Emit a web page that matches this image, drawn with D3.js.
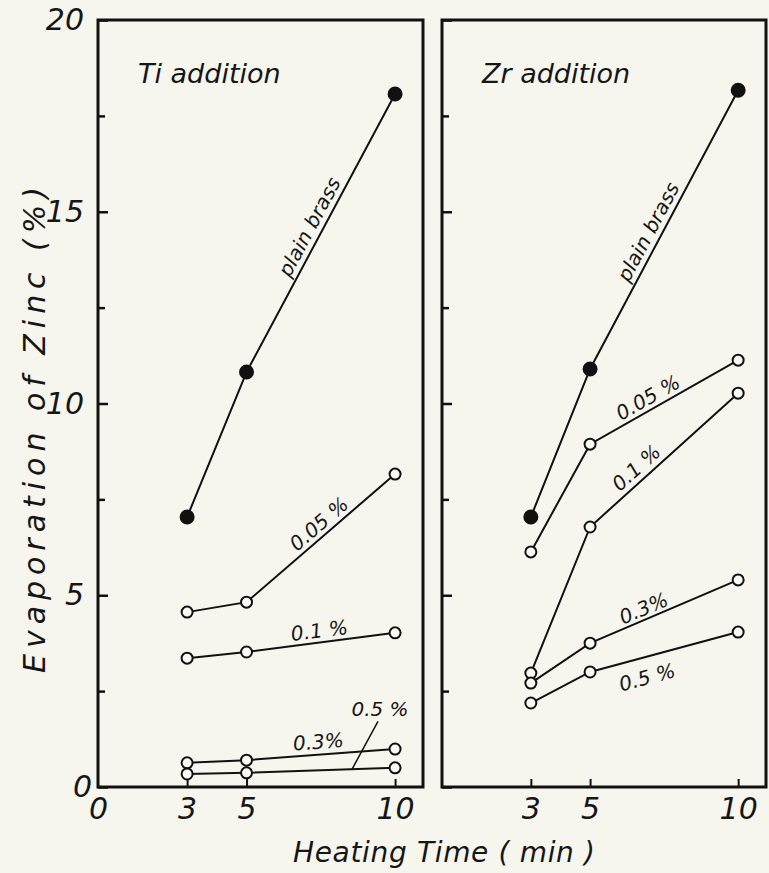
<!DOCTYPE html>
<html>
<head>
<meta charset="utf-8">
<script src="https://cdn.jsdelivr.net/npm/d3@7"></script>
<style>
  body { margin: 0; background: #f6f6ef; }
  text { font-family: "DejaVu Sans", sans-serif; font-style: italic; fill: #161616; }
</style>
</head>
<body>
<script>
// heating times (min) shared by every series
const times = [3, 5, 10];

// Ti addition, evaporation of zinc (%)
const tiPlain = [7.04, 10.82, 18.07];
const ti005 = [4.56, 4.82, 8.16];
const ti01 = [3.36, 3.52, 4.02];
const ti03 = [0.63, 0.70, 0.99];
const ti05 = [0.34, 0.37, 0.50];

// Zr addition
const zrPlain = [7.04, 10.90, 18.17];
const zr005 = [6.13, 8.94, 11.13];
const zr01 = [2.97, 6.78, 10.27];
const zr03 = [2.71, 3.75, 5.40];
const zr05 = [2.19, 3.00, 4.04];

const yMajor = [0, 5, 10, 15, 20];
const yMinor = [2.5, 7.5, 12.5, 17.5];

let width = 769, height = 873;

let svg = d3.select("body").append("svg")
  .attr("width", width)
  .attr("height", height);

svg.append("rect").attr("width", width).attr("height", height).attr("fill", "#f6f6ef");

let y = d3.scaleLinear().domain([0, 20]).range([787, 20]);
let xLeft = d3.scaleLinear().domain([0, 10.94]).range([98, 423]);
let xRight = d3.scaleLinear().domain([0, 10.94]).range([442, 766]);

// label specs: seg = which segment, frac = position along it, off = distance from line
let tiPanel = {
  title: "Ti addition",
  x: xLeft,
  yLabels: true,
  xTicks: [0, 3, 5, 10],
  series: [
    { values: tiPlain, filled: true, label: "plain brass", seg: 1, frac: 0.5, off: 6 },
    { values: ti005, label: "0.05 %", seg: 1, frac: 0.54, off: 5 },
    { values: ti01, label: "0.1 %", seg: 1, frac: 0.5, off: 5 },
    { values: ti03, label: "0.3%", seg: 1, frac: 0.49, off: 6 },
    { values: ti05, label: "0.5 %", seg: 1, frac: 0.71, leader: { dx: 28, dy: -53, lx: 26, ly: -48 } }
  ]
};

let zrPanel = {
  title: "Zr addition",
  x: xRight,
  yLabels: false,
  xTicks: [3, 5, 10],
  series: [
    { values: zrPlain, filled: true, label: "plain brass", seg: 1, frac: 0.47, off: 6 },
    { values: zr005, label: "0.05 %", seg: 1, frac: 0.43, off: 5 },
    { values: zr01, label: "0.1 %", seg: 1, frac: 0.37, off: 6 },
    { values: zr03, label: "0.3%", seg: 1, frac: 0.39, off: 4 },
    { values: zr05, label: "0.5 %", seg: 1, frac: 0.35, off: -27 }
  ]
};

function drawPanel(p) {
  let x = p.x;
  let g = svg.append("g");

  // frame
  g.append("rect")
    .attr("x", x(0))
    .attr("y", y(20))
    .attr("width", x.range()[1] - x(0))
    .attr("height", y(0) - y(20))
    .attr("fill", "none")
    .attr("stroke", "#111")
    .attr("stroke-width", 3);

  // y ticks (inside)
  let ya = g.append("g")
    .attr("transform", "translate(" + x(0) + ",0)")
    .call(d3.axisLeft(y).tickValues(yMajor).tickSize(-10).tickPadding(14)
      .tickFormat(p.yLabels ? d3.format("d") : ""));
  ya.append("g").call(d3.axisLeft(y).tickValues(yMinor).tickSize(-7).tickFormat(""));
  ya.selectAll(".domain").remove();
  ya.selectAll("line").attr("stroke", "#111").attr("stroke-width", 2.5);
  ya.selectAll("text").style("font-size", "30px").style("font-family", "DejaVu Sans").attr("fill", "#161616");
  ya.selectAll(".tick").filter(function(d) { return d === 0; }).select("text").attr("dx", 8);

  // x ticks
  let xa = g.append("g")
    .attr("transform", "translate(0," + y(0) + ")")
    .call(d3.axisBottom(x).tickValues(p.xTicks).tickSize(-8).tickPadding(11).tickFormat(d3.format("d")));
  xa.selectAll(".domain").remove();
  xa.selectAll("line").attr("stroke", "#111").attr("stroke-width", 2)
    .filter(function(d) { return d === 0; }).remove();
  xa.selectAll("text").style("font-size", "30px").style("font-family", "DejaVu Sans").attr("fill", "#161616");

  // panel title
  g.append("text")
    .attr("x", x(0) + 40)
    .attr("y", y(20) + 63)
    .style("font-size", "27px")
    .text(p.title);

  let line = d3.line()
    .x(function(d, i) { return x(times[i]); })
    .y(function(d) { return y(d); });

  p.series.forEach(function(s) {
    g.append("path")
      .attr("d", line(s.values))
      .attr("fill", "none")
      .attr("stroke", "#111")
      .attr("stroke-width", 2);
  });

  p.series.forEach(function(s) {
    g.selectAll(null)
      .data(s.values)
      .enter().append("circle")
      .attr("cx", function(d, i) { return x(times[i]); })
      .attr("cy", function(d) { return y(d); })
      .attr("r", s.filled ? 6.5 : 5.5)
      .attr("fill", s.filled ? "#111" : "#fbfbf6")
      .attr("stroke", "#111")
      .attr("stroke-width", 2);
  });

  // series labels along their lines
  p.series.forEach(function(s) {
    let A = [x(times[s.seg]), y(s.values[s.seg])];
    let B = [x(times[s.seg + 1]), y(s.values[s.seg + 1])];
    let P = [A[0] + s.frac * (B[0] - A[0]), A[1] + s.frac * (B[1] - A[1])];
    if (s.leader) {
      g.append("line")
        .attr("x1", P[0]).attr("y1", P[1])
        .attr("x2", P[0] + s.leader.lx).attr("y2", P[1] + s.leader.ly)
        .attr("stroke", "#111").attr("stroke-width", 1.5);
      g.append("text")
        .attr("x", P[0] + s.leader.dx)
        .attr("y", P[1] + s.leader.dy)
        .attr("text-anchor", "middle")
        .style("font-size", "20px")
        .text(s.label);
      return;
    }
    let a = Math.atan2(B[1] - A[1], B[0] - A[0]);
    let n = [Math.sin(a), -Math.cos(a)];
    let pos = [P[0] + s.off * n[0], P[1] + s.off * n[1]];
    g.append("text")
      .attr("transform", "translate(" + pos[0] + "," + pos[1] + ") rotate(" + (a * 180 / Math.PI) + ")")
      .attr("text-anchor", "middle")
      .style("font-size", "20px")
      .text(s.label);
  });
}

drawPanel(tiPanel);
drawPanel(zrPanel);

// axis titles
svg.append("text")
  .attr("transform", "translate(45,430) rotate(-90)")
  .attr("text-anchor", "middle")
  .attr("textLength", 486)
  .attr("lengthAdjust", "spacing")
  .style("font-size", "30px")
  .text("Evaporation  of  Zinc (%)");

svg.append("text")
  .attr("x", 444)
  .attr("y", 862)
  .attr("text-anchor", "middle")
  .attr("textLength", 302)
  .attr("lengthAdjust", "spacing")
  .style("font-size", "28px")
  .text("Heating  Time ( min )");
</script>
</body>
</html>
